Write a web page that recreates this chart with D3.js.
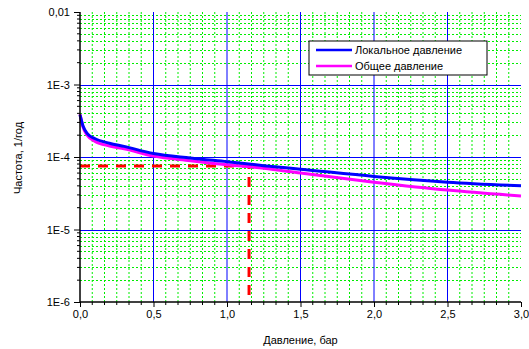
<!DOCTYPE html>
<html>
<head>
<meta charset="utf-8">
<script src="https://cdn.jsdelivr.net/npm/d3@7"></script>
<style>
  body { margin: 0; background: #fff; }
  text { font-family: "Liberation Sans", Arial, sans-serif; }
</style>
</head>
<body>
<div id="chart"></div>
<script>
// data
var pressure = [0, 0.02, 0.05, 0.1, 0.2, 0.3, 0.5, 0.75, 1.0, 1.25, 1.5, 2.0, 2.5, 3.0];
var localFreq = [3.8e-4, 2.7e-4, 2.1e-4, 1.8e-4, 1.55e-4, 1.4e-4, 1.12e-4, 9.7e-5, 8.6e-5, 7.6e-5, 6.8e-5, 5.4e-5, 4.5e-5, 4.0e-5];
var totalFreq = [3.9e-4, 2.6e-4, 1.98e-4, 1.65e-4, 1.42e-4, 1.3e-4, 1.03e-4, 8.9e-5, 7.8e-5, 7.0e-5, 6.0e-5, 4.5e-5, 3.5e-5, 2.9e-5];
var seriesNames = ['Локальное давление', 'Общее давление'];
var markX = 1.15, markY = 7.5e-5;
var xTicks = [0, 0.5, 1.0, 1.5, 2.0, 2.5, 3.0];
var yTicks = [1e-6, 1e-5, 1e-4, 1e-3, 1e-2];
var yTickLabels = ['1E-6', '1E-5', '1E-4', '1E-3', '0,01'];

var width = 529, height = 349;
var margin = { top: 12, left: 80, bottom: 47, right: 8 };

var svg = d3.select('#chart').append('svg')
    .attr('width', width)
    .attr('height', height);

var x = d3.scaleLinear().domain([0, 3]).range([margin.left, width - margin.right]);
var y = d3.scaleLog().domain([1e-6, 1e-2]).range([height - margin.bottom, margin.top]);

var x0 = x.range()[0], x1 = x.range()[1], yb = y.range()[0], yt = y.range()[1];

// minor values
var xMinor = d3.range(0, 36).map(function (i) { return i / 12; }).filter(function (v) { return v > 0 && Math.abs(v * 2 - Math.round(v * 2)) > 1e-6; });
var yMinor = [];
[-6, -5, -4, -3].forEach(function (e) {
    for (var k = 2; k <= 9; k++) yMinor.push(k * Math.pow(10, e));
});

var grid = svg.append('g');
grid.selectAll('.vminor').data(xMinor).enter().append('line')
    .attr('x1', function (d) { return x(d); }).attr('x2', function (d) { return x(d); })
    .attr('y1', yt).attr('y2', yb)
    .style('stroke', '#00ee00').style('stroke-width', 1).style('stroke-dasharray', '2,2');
grid.selectAll('.hminor').data(yMinor).enter().append('line')
    .attr('x1', x0).attr('x2', x1)
    .attr('y1', function (d) { return Math.round(y(d)) + 0.5; }).attr('y2', function (d) { return Math.round(y(d)) + 0.5; })
    .style('stroke', '#00ee00').style('stroke-width', 1).style('stroke-dasharray', '2,2');
grid.selectAll('.vmajor').data(xTicks.slice(1, -1)).enter().append('line')
    .attr('x1', function (d) { return x(d); }).attr('x2', function (d) { return x(d); })
    .attr('y1', yt).attr('y2', yb)
    .style('stroke', '#0000ff').style('stroke-width', 1);
grid.selectAll('.hmajor').data(yTicks.slice(1, -1)).enter().append('line')
    .attr('x1', x0).attr('x2', x1)
    .attr('y1', function (d) { return Math.round(y(d)) + 0.5; }).attr('y2', function (d) { return Math.round(y(d)) + 0.5; })
    .style('stroke', '#0000ff').style('stroke-width', 1);

// red marker
svg.append('path')
    .attr('d', 'M' + x(0) + ',' + y(markY) + 'H' + x(markX) + 'V' + yb)
    .style('fill', 'none').style('stroke', '#ff0000').style('stroke-width', 3)
    .style('stroke-dasharray', '10,8');

var line = d3.line().curve(d3.curveMonotoneX);
var totalPts = pressure.map(function (p, i) { return [x(p), y(totalFreq[i])]; });
var localPts = pressure.map(function (p, i) { return [x(p), y(localFreq[i])]; });
svg.append('path').attr('d', line(totalPts))
    .style('fill', 'none').style('stroke', '#ff00ff').style('stroke-width', 3);
svg.append('path').attr('d', line(localPts))
    .style('fill', 'none').style('stroke', '#0000ff').style('stroke-width', 3);

// axes
var xAxis = d3.axisBottom(x).tickValues(xTicks).tickSize(5).tickPadding(3)
    .tickFormat(function (d) { return d3.format('.1f')(d).replace('.', ','); });
var gx = svg.append('g').attr('transform', 'translate(0,' + yb + ')').call(xAxis);
gx.select('.domain').attr('d', 'M' + x0 + ',0H' + x1).style('stroke-width', 1.5);
gx.selectAll('.xm').data(xMinor).enter().append('line')
    .attr('x1', function (d) { return x(d); }).attr('x2', function (d) { return x(d); })
    .attr('y1', 0).attr('y2', 3).style('stroke', '#000');

var yAxis = d3.axisLeft(y).tickValues(yTicks).tickSize(6).tickPadding(4)
    .tickFormat(function (d, i) { return yTickLabels[i]; });
var gy = svg.append('g').attr('transform', 'translate(' + x0 + ',0)').call(yAxis);
gy.select('.domain').attr('d', 'M0,' + yb + 'V' + yt).style('stroke-width', 1.5);
gy.selectAll('.ym').data(yMinor).enter().append('line')
    .attr('x1', -3).attr('x2', 0)
    .attr('y1', function (d) { return y(d); }).attr('y2', function (d) { return y(d); })
    .style('stroke', '#000');

svg.selectAll('.tick text').style('font-size', '11px').style('font-family', '"Liberation Sans", Arial, sans-serif').attr('fill', '#000');
svg.selectAll('.tick line').style('stroke', '#000');

// axis titles
svg.append('text').attr('x', (x0 + x1) / 2).attr('y', 344)
    .attr('text-anchor', 'middle').style('font-size', '11px').text('Давление, бар');
svg.append('text').attr('transform', 'translate(22,' + ((yt + yb) / 2 + 1) + ') rotate(-90)')
    .attr('text-anchor', 'middle').style('font-size', '11px').text('Частота, 1/год');

// legend
var lg = svg.append('g').attr('transform', 'translate(309,41)');
lg.append('rect').attr('width', 178).attr('height', 34)
    .style('fill', '#fff').style('stroke', '#000').style('stroke-width', 1);
var colors = ['#0000ff', '#ff00ff'];
seriesNames.forEach(function (name, i) {
    lg.append('line').attr('x1', 7).attr('x2', 43).attr('y1', 9 + i * 16).attr('y2', 9 + i * 16)
        .style('stroke', colors[i]).style('stroke-width', 2.5);
    lg.append('text').attr('x', 46).attr('y', 13 + i * 16)
        .style('font-size', '11px').text(name);
});
</script>
</body>
</html>
